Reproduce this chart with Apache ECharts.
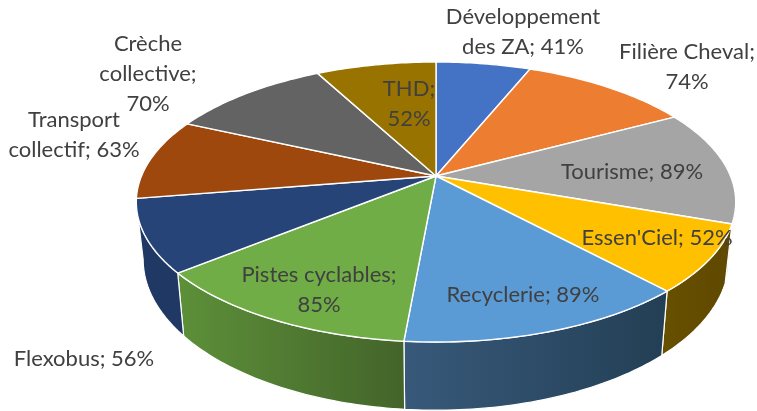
<!DOCTYPE html>
<html>
<head>
<meta charset="utf-8">
<script src="https://cdn.jsdelivr.net/npm/echarts@6/dist/echarts.min.js"></script>
<style>html,body{margin:0;padding:0;background:#fff}#c{width:757px;height:411px}</style>
</head>
<body>
<div id="c"></div>
<script>
var categories = ['Développement des ZA','Filière Cheval','Tourisme',"Essen'Ciel",'Recyclerie','Pistes cyclables','Flexobus','Transport collectif','Crèche collective','THD'];
var values = [41,74,89,52,89,85,56,63,70,52];
var labelTexts = ['Développement\ndes ZA; 41%','Filière Cheval;\n74%','Tourisme; 89%',"Essen'Ciel; 52%",'Recyclerie; 89%','Pistes cyclables;\n85%','Flexobus; 56%','Transport\ncollectif; 63%','Crèche\ncollective;\n70%','THD;\n52%'];

var topColors = ['#4472C4','#ED7D31','#A5A5A5','#FFC000','#5B9BD5','#70AD47','#264478','#9E480E','#636363','#997300'];
var wallFrom = ['#2c4a80','#9a5120','#6b6b6b','#685000','#38597a','#5d9039','#1f3864','#66300a','#404040','#634b00'];
var wallTo   = ['#2c4a80','#9a5120','#6b6b6b','#5f4800','#233f55','#43642a','#1f3864','#66300a','#404040','#634b00'];
var labelCentres = [[523,32],[687,67],[632,172],[657,238],[523,295],[319,290],[84,359],[74,135],[148,74],[409,104]];

var CX = 436, CY = 176, A = 294.5, B = 135.2, K = 0.1857, WALL = 55.5, BOTTOM_X = 0.977;
var total = values.reduce(function (a, b) { return a + b; }, 0);
function startAngle(i) {
  var s = 0;
  for (var j = 0; j < i; j++) s += values[j];
  return s / total * 360;
}
function project(deg, r, low) {
  var t = deg * Math.PI / 180, u = r * Math.sin(t), v = r * Math.cos(t), w = 1 + K * v;
  var x = A * u / w, y = -B * v / w;
  if (low) { x *= BOTTOM_X; y += WALL / w; }
  return [CX + x, CY + y];
}
function arc(a0, a1, low) {
  var pts = [], n = Math.max(2, Math.ceil(Math.abs(a1 - a0)));
  for (var i = 0; i <= n; i++) pts.push(project(a0 + (a1 - a0) * i / n, 1, low));
  return pts;
}
var TAN0 = Math.acos(-K) * 180 / Math.PI, TAN1 = 360 - TAN0;

function renderWall(params, api) {
  var i = params.dataIndex;
  var a0 = Math.max(startAngle(i), TAN0);
  var a1 = Math.min(startAngle(i) + api.value(0) / total * 360, TAN1);
  if (a1 <= a0) return null;
  return {
    type: 'polygon',
    shape: { points: arc(a0, a1, false).concat(arc(a0, a1, true).reverse()) },
    style: {
      fill: new echarts.graphic.LinearGradient(0, 0, 1, 0, [
        { offset: 0, color: wallFrom[i] }, { offset: 1, color: wallTo[i] }
      ]),
      stroke: '#fff', lineWidth: 1.2
    }
  };
}
function renderTop(params, api) {
  var i = params.dataIndex;
  var a0 = startAngle(i), a1 = a0 + api.value(0) / total * 360;
  return {
    type: 'polygon',
    shape: { points: [project(0, 0, false)].concat(arc(a0, a1, false)) },
    style: { fill: topColors[i], stroke: '#fff', lineWidth: 1.4, lineJoin: 'round' }
  };
}
function renderLabel(params) {
  var i = params.dataIndex;
  return {
    type: 'text',
    x: labelCentres[i][0], y: labelCentres[i][1],
    style: {
      text: labelTexts[i], fill: '#404040', font: '22px Lato, Carlito, sans-serif',
      align: 'center', verticalAlign: 'middle', lineHeight: 30
    }
  };
}
var seriesData = categories.map(function (c, i) { return { name: c, value: [values[i]] }; });
var chart = echarts.init(document.getElementById('c'), null, { renderer: 'canvas' });
chart.setOption({
  animation: false,
  backgroundColor: '#fff',
  series: [
    { type: 'custom', name: 'walls', coordinateSystem: 'none', renderItem: renderWall, data: seriesData, silent: true, z: 1 },
    { type: 'custom', name: 'tops', coordinateSystem: 'none', renderItem: renderTop, data: seriesData, silent: true, z: 2 },
    { type: 'custom', name: 'labels', coordinateSystem: 'none', renderItem: renderLabel, data: seriesData, silent: true, z: 3 }
  ]
});
</script>
</body>
</html>
